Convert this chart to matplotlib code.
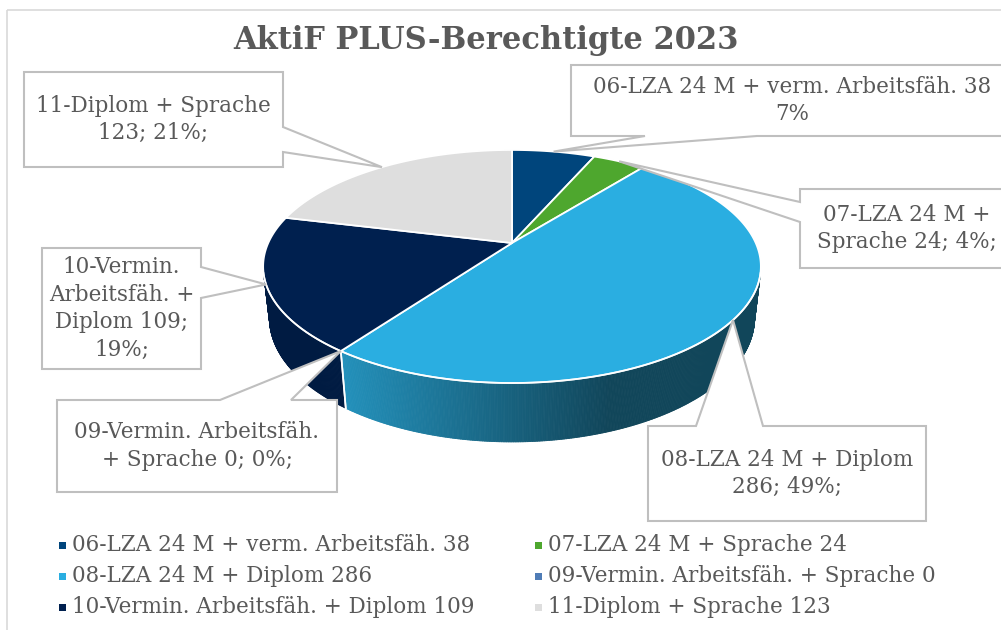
import numpy as np
import matplotlib
matplotlib.use('Agg')
import matplotlib.pyplot as plt
from matplotlib.patches import Polygon, Rectangle
from matplotlib.collections import PolyCollection
from matplotlib.colors import to_rgb

# data
categories = ['06-LZA 24 M + verm. Arbeitsfäh.', '07-LZA 24 M + Sprache', '08-LZA 24 M + Diplom',
              '09-Vermin. Arbeitsfäh. + Sprache', '10-Vermin. Arbeitsfäh. + Diplom', '11-Diplom + Sprache']
values = [38, 24, 286, 0, 109, 123]
colors = ['#00457c', '#4ea72e', '#2aaee1', '#4f7cb6', '#00204f', '#dedede']
label_texts = ['06-LZA 24 M + verm. Arbeitsfäh. 38\n7%',
               '07-LZA 24 M +\nSprache 24; 4%;',
               '08-LZA 24 M + Diplom\n286; 49%;',
               '09-Vermin. Arbeitsfäh.\n+ Sprache 0; 0%;',
               '10-Vermin.\nArbeitsfäh. +\nDiplom 109;\n19%;',
               '11-Diplom + Sprache\n123; 21%;']
title = 'AktiF PLUS-Berechtigte 2023'

# label boxes (x0, y0, x1, y1) in pixels and base points of the callout wedge
boxes = [(571, 65, 1013, 136), (800, 189, 1014, 268), (648, 426, 926, 521),
         (57, 400, 337, 492), (42, 248, 201, 369), (24, 72, 283, 167)]
wedges = [((645, 136), (757, 136)), ((800, 202), (800, 222)), ((696, 426), (763, 426)),
          ((220, 400), (291, 400)), ((201, 267), (201, 298)), ((283, 127), (283, 152))]

TXT = '#595959'
EDGE = '#bfbfbf'
FONT = 'DejaVu Serif'

# 3d pie projection (pixel space)
cx, cy = 512, 243
elev = np.radians(27.3)
dist = 4.41
focal = 1075
height = 0.24
se, ce = np.sin(elev), np.cos(elev)


def project(t, z=0.0):
    X = np.sin(t)
    Y = np.cos(t)
    depth = dist + Y * ce - z * se
    return cx + focal * X / depth, cy - focal * (Y * se + z * ce) / depth


def shade(x):
    # darker to the right, like excel's lighting
    f = np.clip((x - 342) / (610 - 342), 0, 1)
    return 0.83 - f * 0.43


def callout(box, p1, p2, tip):
    x0, y0, x1, y1 = box
    if p1[1] == y0 and p2[1] == y0:      # top
        return [(x0, y0), p1, tip, p2, (x1, y0), (x1, y1), (x0, y1)]
    if p1[0] == x1 and p2[0] == x1:      # right
        return [(x0, y0), (x1, y0), p1, tip, p2, (x1, y1), (x0, y1)]
    if p1[1] == y1 and p2[1] == y1:      # bottom
        return [(x0, y0), (x1, y0), (x1, y1), p2, tip, p1, (x0, y1)]
    return [(x0, y0), (x1, y0), (x1, y1), (x0, y1), p2, tip, p1]  # left


fig = plt.figure(figsize=(10.01, 6.3), dpi=100)
ax = fig.add_axes([0, 0, 1, 1])
ax.set_xlim(0, 1001)
ax.set_ylim(630, 0)
ax.axis('off')

# chart border
ax.add_patch(Rectangle((7, 10), 1010, 640, fill=False, edgecolor='#d9d9d9', lw=1.2))

total = sum(values)
bounds = np.concatenate([[0], np.cumsum(values)]) / total * 2 * np.pi
vis0 = np.arccos(-1 / (dist * ce))
vis1 = 2 * np.pi - vis0

# side walls
for i, v in enumerate(values):
    if v == 0:
        continue
    t0, t1 = max(bounds[i], vis0), min(bounds[i + 1], vis1)
    if t1 <= t0:
        continue
    ts = np.linspace(t0, t1, int(np.degrees(t1 - t0) * 3) + 2)
    polys, fcs = [], []
    base = np.array(to_rgb(colors[i]))
    for a, b in zip(ts[:-1], ts[1:]):
        xa, ya = project(a)
        xb, yb = project(b)
        xb2, yb2 = project(b, -height)
        xa2, ya2 = project(a, -height)
        polys.append([(xa, ya), (xb, yb), (xb2, yb2), (xa2, ya2)])
        fcs.append(base * shade((xa + xb) / 2))
    ax.add_collection(PolyCollection(polys, facecolors=fcs, edgecolors=fcs, linewidths=0.6))
    # white seam at slice boundary on the side
    for t in (bounds[i], bounds[i + 1]):
        if vis0 < t < vis1:
            xs, ys = zip(project(t), project(t, -height))
            ax.plot(xs, ys, color='white', lw=1.2)

# top faces
for i, v in enumerate(values):
    if v == 0:
        continue
    ts = np.linspace(bounds[i], bounds[i + 1], max(int(np.degrees(bounds[i + 1] - bounds[i])) * 2, 4))
    px, py = project(ts)
    pts = [(cx, cy)] + list(zip(px, py))
    ax.add_patch(Polygon(pts, closed=True, facecolor=colors[i], edgecolor='white', lw=1.3, joinstyle='round'))

# light rim on the front edge
ts = np.linspace(vis0, vis1, 300)
px, py = project(ts)
ax.plot(px, py, color='white', lw=1.2, alpha=0.9)

# callouts
for i in range(len(values)):
    x0, y0, x1, y1 = boxes[i]
    if values[i] == 0:
        tip = project(bounds[i])
    else:
        tip = project((bounds[i] + bounds[i + 1]) / 2)
    p1, p2 = wedges[i]
    shape = callout(boxes[i], p1, p2, tip)
    ax.add_patch(Polygon(shape, closed=True, facecolor='white', edgecolor=EDGE, lw=1.5,
                         joinstyle='miter', zorder=5))
    ax.text((x0 + x1) / 2, (y0 + y1) / 2, label_texts[i], ha='center', va='center',
            color=TXT, fontsize=15.5, family=FONT, linespacing=1.33, zorder=8)

ax.text(486, 40, title, ha='center', va='center', color=TXT, fontsize=22, fontweight='bold', family=FONT)

# legend
leg_x = [62, 538]
leg_y = [545, 576, 607]
for i, cat in enumerate(categories):
    lx = leg_x[i % 2]
    ly = leg_y[i // 2]
    ax.add_patch(Rectangle((lx - 3.5, ly - 3.5), 7, 7, facecolor=colors[i], edgecolor='none'))
    ax.text(lx + 10, ly, f'{cat} {values[i]}', ha='left', va='center', color=TXT, fontsize=15.5, family=FONT)

fig.savefig('out.png', dpi=100)
